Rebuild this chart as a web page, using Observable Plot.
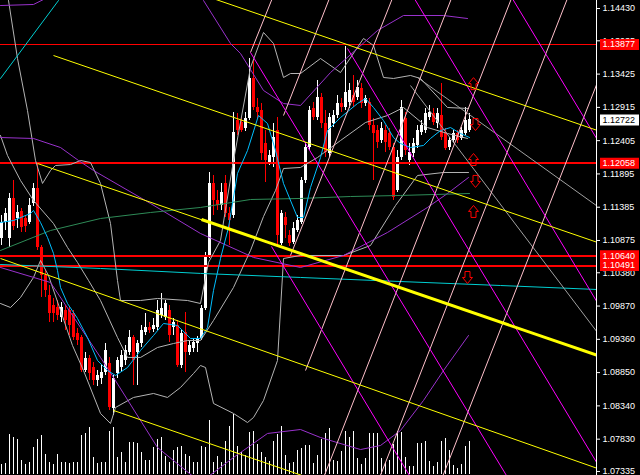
<!DOCTYPE html>
<html><head><meta charset="utf-8">
<script src="https://cdn.jsdelivr.net/npm/d3@7"></script>
<script src="https://cdn.jsdelivr.net/npm/@observablehq/plot@0.6"></script>
<style>
html,body{margin:0;padding:0;background:#000;}
#chart{position:relative;width:640px;height:475px;background:#000;overflow:hidden;}
#chart svg{position:absolute;left:0;}
</style></head><body><div id="chart"></div>
<script>
// ---- candles (bar index 0..117) ----
const open=[1.10906,1.11151,1.10906,1.11519,1.11212,1.11319,1.11212,1.11151,1.11442,1.11672,
1.10768,1.10339,1.10032,1.09878,1.09848,1.09694,1.09802,1.09802,1.09756,1.09449,
1.09388,1.08882,1.09066,1.08928,1.08729,1.08760,1.08852,1.08990,1.08300,1.08837,
1.08928,1.09036,1.09158,1.09388,1.09158,1.09296,1.09465,1.09541,1.09511,1.09541,
1.09725,1.09694,1.09802,1.09541,1.09572,1.08959,1.09465,1.09158,1.09220,1.09296,
1.09373,1.09832,1.10615,1.11749,1.11488,1.11411,1.11749,1.11289,1.11258,1.12713,
1.12683,1.12591,1.12744,1.13358,1.12913,1.12867,1.12361,1.12070,1.12147,1.12560,
1.10829,1.11227,1.10952,1.10844,1.11028,1.11151,1.11795,1.12300,1.12897,1.12759,
1.13066,1.12668,1.12208,1.12668,1.12790,1.12974,1.12913,1.12989,1.13097,1.13066,
1.13204,1.12974,1.12989,1.12637,1.12560,1.12407,1.12560,1.12515,1.12300,1.11641,
1.12147,1.12744,1.12101,1.12208,1.12331,1.12530,1.12560,1.12759,1.12821,1.12668,
1.12790,1.12530,1.12300,1.12407,1.12515,1.12438,1.12515,1.12560];
const high=[1.11258,1.11365,1.11595,1.11795,1.11411,1.11365,1.11258,1.11519,1.11749,1.12070,
1.10798,1.10415,1.10185,1.09986,1.09955,1.09924,1.09878,1.09848,1.09802,1.09526,
1.09419,1.09158,1.09112,1.09005,1.08882,1.08959,1.09296,1.09082,1.08806,1.09082,
1.09189,1.09265,1.09495,1.09419,1.09342,1.09572,1.09756,1.09618,1.09679,1.09955,
1.10062,1.09955,1.09878,1.09679,1.09648,1.09495,1.09771,1.09342,1.09373,1.09403,
1.09878,1.10691,1.11917,1.11871,1.11641,1.11749,1.11871,1.11381,1.12836,1.12821,
1.12759,1.12836,1.13664,1.13634,1.13051,1.12974,1.12560,1.12254,1.12668,1.12759,
1.11335,1.11304,1.11028,1.11151,1.11258,1.11840,1.12377,1.12928,1.12989,1.13327,
1.13127,1.12867,1.12821,1.12867,1.13097,1.13051,1.13850,1.13281,1.13404,1.13327,
1.13281,1.13097,1.13051,1.12744,1.12637,1.12683,1.12637,1.12591,1.12361,1.12254,
1.13020,1.12836,1.12361,1.12438,1.12637,1.12713,1.12897,1.12944,1.12897,1.12897,
1.13281,1.12591,1.12453,1.12560,1.12560,1.12606,1.12913,1.12821];
const low=[1.10798,1.11028,1.10768,1.11028,1.11059,1.10998,1.10998,1.11120,1.11396,1.10722,
1.10001,1.10001,1.09618,1.09618,1.09648,1.09618,1.09495,1.09419,1.09342,1.09265,
1.08852,1.08852,1.08729,1.08653,1.08637,1.08668,1.08806,1.08270,1.08193,1.08760,
1.08852,1.08959,1.09112,1.08653,1.08653,1.09235,1.09419,1.09449,1.09465,1.09495,
1.09679,1.09648,1.09311,1.09419,1.08928,1.08913,1.08852,1.09112,1.09158,1.09158,
1.09342,1.09802,1.10599,1.11258,1.11335,1.11335,1.11227,1.10798,1.11212,1.12484,
1.12530,1.12545,1.12713,1.12867,1.12744,1.12101,1.11764,1.12024,1.11993,1.10798,
1.10798,1.10906,1.10783,1.10814,1.10998,1.11120,1.11749,1.12254,1.12713,1.12713,
1.12591,1.12147,1.12147,1.12606,1.12744,1.12836,1.12867,1.12897,1.12913,1.13020,
1.12897,1.12928,1.12560,1.11795,1.12285,1.12361,1.12223,1.12254,1.11488,1.11611,
1.12101,1.12177,1.12024,1.12147,1.12285,1.12484,1.12515,1.12713,1.12637,1.12591,
1.12407,1.12254,1.12254,1.12361,1.12361,1.12407,1.12484,1.12530];
const close=[1.11151,1.11289,1.11519,1.11090,1.11304,1.11074,1.11090,1.11411,1.11672,1.10768,
1.10339,1.10109,1.09756,1.09756,1.09725,1.09848,1.09648,1.09572,1.09388,1.09342,
1.08882,1.09066,1.08837,1.08729,1.08806,1.08852,1.09189,1.08316,1.08760,1.09036,
1.09112,1.09189,1.09388,1.09036,1.09296,1.09495,1.09541,1.09495,1.09572,1.09802,
1.09832,1.09909,1.09419,1.09618,1.08959,1.09449,1.09158,1.09265,1.09311,1.09373,
1.09832,1.10615,1.11749,1.11488,1.11411,1.11611,1.11289,1.11181,1.12530,1.12560,
1.12560,1.12744,1.13358,1.12913,1.12836,1.12208,1.12101,1.12177,1.12453,1.10952,
1.11289,1.11105,1.10829,1.11059,1.11181,1.11795,1.12300,1.12867,1.12759,1.13066,
1.12668,1.12223,1.12759,1.12790,1.12974,1.12913,1.13143,1.13173,1.12989,1.13219,
1.12974,1.13051,1.12637,1.12515,1.12377,1.12591,1.12377,1.12300,1.11534,1.12147,
1.12913,1.12254,1.12223,1.12361,1.12560,1.12637,1.12821,1.12836,1.12683,1.12821,
1.12453,1.12285,1.12407,1.12515,1.12407,1.12560,1.12713,1.12722];
const volume=[1000,1100,4000,3700,3500,1400,1000,1200,2700,3500,
3900,2000,1200,1000,2000,1200,1200,1100,1200,1200,
3900,4100,4700,1700,1100,1200,1200,4300,4700,1700,
2200,1200,3200,3200,3100,2200,1400,1400,2700,3500,
3700,1800,1200,2400,2700,2800,2000,1800,1200,1200,
2800,2700,5400,1200,1800,1200,3300,4800,6000,2800,
2200,1900,4200,4300,3000,2200,1700,1300,3300,4000,
4800,1900,1100,1200,2400,2600,2900,2900,1100,1900,
3500,4100,4600,1400,1300,2300,4300,3700,4300,1600,
1000,1600,4100,4100,4100,1600,1100,1400,3000,4300,
4200,1700,800,800,3100,3100,3300,1300,800,1200,
3300,3600,2400,900,600,1000,2800,3300];

// ---- price axis ----
const tickValues=[1.14430,1.13935,1.13425,1.12915,1.12405,1.11895,1.11385,1.10875,1.10380,1.09870,1.09360,1.08850,1.08340,1.07830,1.07335];
const levelTop=[1.13877];
const levels=[1.12058,1.10640,1.10491];
const lastPrice=1.12722;

// ---- indicator curves: [bar index, price] ----
const fastMA=[[-0.25,1.11151],[3,1.11181],[7.25,1.11289],[8,1.11335],[9.75,1.11151],[11.5,1.10921],[13,1.10676],[14,1.10415],[14.75,1.10155],[16.5,1.09909],[19,1.09679],[21.5,1.09388],[24,1.09036],[26.5,1.08882],[28.5,1.08806],[31.5,1.08928],[34.75,1.09189],[38,1.09419],[40.5,1.09603],[44,1.09572],[47.25,1.09373],[49.75,1.09373],[51.5,1.09541],[53,1.10109],[54.75,1.10599],[56.75,1.11074],[59,1.11902],[61.5,1.12254],[64.25,1.12790],[66.5,1.12668],[68.5,1.12254],[70.5,1.11749],[74,1.11227],[75.5,1.11227],[77.25,1.11687],[79.75,1.12147],[81.5,1.12560],[84.75,1.12759],[89,1.12974],[91,1.13051],[93,1.12913],[95.5,1.12713],[98,1.12453],[99.75,1.12361],[102.25,1.12300],[105.5,1.12331],[107.25,1.12438],[109.75,1.12560],[112.25,1.12606],[114.75,1.12515],[117,1.12453]];
const slowMA=[[-0.25,1.10722],[12.25,1.11028],[24.75,1.11212],[37.25,1.11304],[49.75,1.11381],[62.25,1.11503],[74.75,1.11519],[87.25,1.11549],[99.75,1.11565],[117,1.11595]];
const longMA=[[-0.25,1.10507],[24.75,1.10446],[49.75,1.10370],[74.75,1.10308],[99.75,1.10246],[124.75,1.10185],[148.75,1.10124]];
const cyanRay=[[-0.25,1.13358],[14.25,1.14553],[16,1.14860]];
const purpleTop=[[-0.25,1.14476],[8,1.14492],[11,1.14584]];
const purpleUpper=[[49.25,1.14706],[50.5,1.14553],[57.25,1.13894],[59.75,1.13741],[65.5,1.13174],[70.5,1.12974],[74.75,1.12944],[82.25,1.13449],[94,1.14093],[100.5,1.14323],[110.5,1.14323],[116.5,1.14277]];
const purpleMid=[[-0.25,1.12453],[8,1.12438],[14.75,1.12300],[19.25,1.12101],[23,1.11948],[37.25,1.11442],[49.75,1.10982],[63,1.10615],[74.75,1.10461],[85.5,1.10645],[96.5,1.10998],[106.5,1.11381],[111.5,1.11595],[116.75,1.11840]];
const purpleLow=[[-0.25,1.10461],[12.25,1.10231],[24.75,1.09082],[28,1.08775],[39,1.07702],[49.75,1.07166],[58,1.07549],[66.5,1.07917],[74.75,1.07978],[79.75,1.07855],[89.75,1.07671],[94.75,1.07733],[99.75,1.07963],[105.5,1.08423],[110.5,1.08882],[116.75,1.09419]];
const bandUpper=[[1.75,1.14553],[4,1.13664],[6.5,1.12867],[8.5,1.12101],[10.25,1.11749],[12.25,1.11948],[13.5,1.12024],[17.25,1.12039],[19.75,1.12101],[22.25,1.12070],[24.75,1.11749],[27.25,1.11135],[29,1.10262],[29.75,1.09955],[34.75,1.09955],[39,1.09986],[46.5,1.09955],[49.75,1.09909],
[51.75,1.10538],[54.75,1.10875],[58,1.12101],[62.25,1.13526],[65.5,1.14063],[68,1.13894],[70.5,1.13373],[72.25,1.13434],[74.75,1.13434],[79.75,1.13664],[84.75,1.13449],[90.5,1.13971],[93,1.13863],[95.5,1.13373],[98,1.13358],[102.25,1.13404],[104.75,1.13358],[111.5,1.12913],[116.75,1.12898]];
const bandLower=[[-0.25,1.09909],[2.25,1.09848],[4.75,1.10001],[8,1.10308],[9.75,1.10568],[11.75,1.10338],[14.75,1.09802],[17.75,1.09265],[20.5,1.08882],[24.75,1.08224],[27.25,1.08070],[28.5,1.08315],[33,1.08469],[38,1.08530],[41.5,1.08469],[44.75,1.08622],[48,1.08836],[49.75,1.08959],[51,1.08928],[53,1.08377],[58,1.08224],[61.5,1.08085],[63,1.08162],[65.5,1.08423],[69,1.09036],[70.5,1.10599],[74.75,1.10645],[85.5,1.10645],[92.25,1.10798],[98.5,1.11411],[104,1.11871],[110.5,1.11917],[116.75,1.11917]];
const bandMid=[[-0.25,1.12484],[1.5,1.12177],[4.75,1.11795],[8,1.11488],[13,1.11135],[16.5,1.10768],[19,1.10538],[21.75,1.10262],[24.75,1.09955],[29,1.09388],[31.5,1.09082],[34.75,1.09082],[39,1.09235],[43,1.09296],[46.5,1.09342],[49.75,1.09342],
[53,1.09649],[58,1.10155],[62.25,1.10722],[65.5,1.11242],[68.5,1.11641],[70.5,1.11978],[74.75,1.11994],[79,1.12147],[84.75,1.12407],[91,1.12683],[96.5,1.12790],[100.5,1.12913],[106.5,1.12606],[111.5,1.12515],[116.5,1.12438]];

// ---- drawn objects: [bar1, price1, bar2, price2] ----
const yellowThin=[[39.75,1.14860,149.75,1.12545],[13,1.13710,149.75,1.10829],[9,1.12055,149.75,1.09097],[-0.25,1.10599,149.75,1.07365],[28,1.08270,149.75,1.05695]];
const yellowThick=[[50,1.11197,149.75,1.09097]];
const magentaLines=[[62.25,1.13756,127.75,1.07120],[67.5,1.10783,103.5,1.07120],[86.5,1.13818,152.25,1.07120],[100.5,1.14860,176.5,1.07120],[125,1.14860,201,1.07120]];
const pinkLines=[[62.25,1.13756,69.5,1.14860],[70.5,1.12790,83.75,1.14860],[72.25,1.10645,99.5,1.14860],[76,1.08882,114.25,1.14860],[79.75,1.07120,129.25,1.14860],[93.75,1.07120,143.25,1.14860],[109.4,1.07120,159,1.14860]];
const greyRays=[[102.25,1.13250,149.75,1.09403],[104,1.13373,149.75,1.11365]];
// arrows: [bar, price]
const arrowsUp=[[118,1.13279],[118,1.12116],[118,1.11320]];
const arrowsDown=[[118.5,1.12652],[118.5,1.11780],[116.5,1.10308]];

const bars=open.map((o,i)=>({i,o,h:high[i],l:low[i],c:close[i],v:volume[i]}));
const col=d=>d.c>=d.o?"#ffffff":"#ff0000";
const xDomain=[-0.25,148.75];
const W=640,H=475;
const seg=(arr)=>arr.map(a=>({x1:a[0],y1:a[1],x2:a[2],y2:a[3]}));
const ln=(arr,stroke,w=1)=>Plot.line(arr,{x:d=>d[0],y:d=>d[1],stroke,strokeWidth:w,clip:true});
const lk=(arr,stroke,w=1)=>Plot.link(seg(arr),{x1:"x1",y1:"y1",x2:"x2",y2:"y2",stroke,strokeWidth:w,clip:true});
const arrowSym=(dir)=>({draw(ctx,size){const s=Math.sqrt(size/Math.PI)/6*dir;
  ctx.moveTo(0,-6*s);ctx.lineTo(5*s,0);ctx.lineTo(2.5*s,0);ctx.lineTo(2.5*s,6*s);
  ctx.lineTo(-2.5*s,6*s);ctx.lineTo(-2.5*s,0);ctx.lineTo(-5*s,0);ctx.closePath();}});

const vol=Plot.plot({
  width:W,height:80,marginLeft:0,marginRight:44,marginTop:0,marginBottom:1,
  style:{background:"transparent"},
  x:{domain:xDomain,axis:null},
  y:{domain:[0,7900],axis:null},
  marks:[Plot.ruleX(bars,{x:"i",y:"v",stroke:"#ffffff",strokeWidth:1,shapeRendering:"crispEdges"})]
});
vol.style.top=(H-80)+"px";

const main=Plot.plot({
  width:W,height:H,marginLeft:0,marginRight:44,marginTop:0,marginBottom:0,
  style:{background:"transparent",fontFamily:"Liberation Sans, Arial, sans-serif",fontSize:"9px",color:"#fff"},
  x:{domain:xDomain,axis:null},
  y:{domain:[1.07273,1.14553],axis:null},
  marks:[
    // candles
    Plot.ruleX(bars,{x:"i",y1:"l",y2:"h",stroke:col,strokeWidth:1,shapeRendering:"crispEdges"}),
    Plot.ruleX(bars,{x:"i",y1:"o",y2:"c",stroke:col,strokeWidth:3,shapeRendering:"crispEdges"}),
    // horizontal levels
    Plot.ruleY(levelTop,{stroke:"#ff0000",strokeWidth:1,x1:xDomain[0],x2:xDomain[1],shapeRendering:"crispEdges"}),
    Plot.ruleY(levels,{stroke:"#ff0000",strokeWidth:2,x1:xDomain[0],x2:xDomain[1],shapeRendering:"crispEdges"}),
    // indicators
    ln(bandUpper,"#b4b4b4"),ln(bandLower,"#b4b4b4"),ln(bandMid,"#b4b4b4"),
    ln(purpleTop,"#9932cc"),ln(purpleUpper,"#9932cc"),ln(purpleMid,"#9932cc"),ln(purpleLow,"#9932cc"),
    ln(slowMA,"#2e8b57"),ln(longMA,"#00ced1"),ln(cyanRay,"#00ced1"),ln(fastMA,"#00bfff"),
    // objects
    lk(greyRays,"#a0a0a0"),
    lk(pinkLines,"#ffc0cb"),
    lk(magentaLines,"#ff00ff"),
    lk(yellowThin,"#ffff00"),
    lk(yellowThick,"#ffff00",3),
    Plot.dot(arrowsUp,{x:d=>d[0],y:d=>d[1],symbol:arrowSym(1),r:6,stroke:"#ff0000",fill:"none",strokeWidth:1}),
    Plot.dot(arrowsDown,{x:d=>d[0],y:d=>d[1],symbol:arrowSym(-1),r:6,stroke:"#ff0000",fill:"none",strokeWidth:1}),
    // price scale
    Plot.ruleX([xDomain[1]],{stroke:"#ffffff",shapeRendering:"crispEdges"}),
    Plot.axisY({anchor:"right",ticks:tickValues,tickFormat:d=>d.toFixed(5),tickSize:3,tickPadding:3,color:"#ffffff",fontSize:9}),
    Plot.ruleY([...levelTop,...levels],{x1:149.75,x2:159.5,stroke:"#ff0000",strokeWidth:11}),
    Plot.text([...levelTop,...levels],{x:149.75,y:d=>d,dx:2,text:d=>d.toFixed(5),textAnchor:"start",fill:"#ffffff",fontSize:9}),
    Plot.ruleY([lastPrice],{x1:149.75,x2:159.5,stroke:"#ffffff",strokeWidth:11}),
    Plot.text([lastPrice],{x:149.75,y:d=>d,dx:2,text:d=>d.toFixed(5),textAnchor:"start",fill:"#000000",fontSize:9})
  ]
});
main.style.top="0px";
const c=document.getElementById("chart");
c.appendChild(vol);c.appendChild(main);
</script></body></html>
